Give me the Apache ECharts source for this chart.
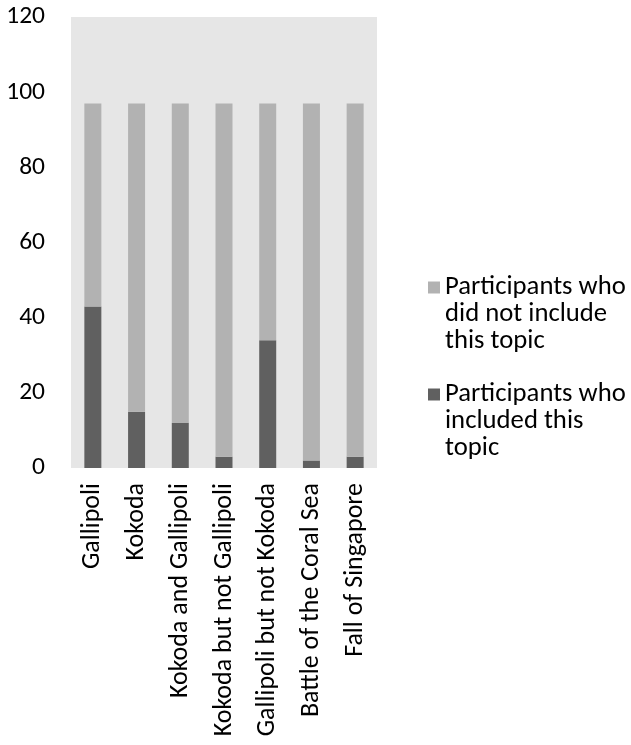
<!DOCTYPE html>
<html><head><meta charset="utf-8">
<script src="https://cdn.jsdelivr.net/npm/echarts@6/dist/echarts.min.js"></script>
<style>html,body{margin:0;padding:0;background:#fff}#c{width:631px;height:745px}</style>
</head><body><div id="c"></div>
<script>
const categories = ['Gallipoli','Kokoda','Kokoda and Gallipoli','Kokoda but not Gallipoli','Gallipoli but not Kokoda','Battle of the Coral Sea','Fall of Singapore'];
const included = [43,15,12,3,34,2,3];
const notIncluded = [54,82,85,94,63,95,94];
const yTicks = [0,20,40,60,80,100,120];
const seriesNames = ['Participants who did not include this topic','Participants who included this topic'];
const legendLines = {
  'Participants who did not include this topic': '\n\nParticipants who\ndid not include\nthis topic',
  'Participants who included this topic': '\n\nParticipants who\nincluded this\ntopic'
};
const FONT = 'Carlito, Lato, sans-serif';
const chart = echarts.init(document.getElementById('c'), null, {renderer:'canvas'});
function legendCfg(name, top){
  return {
    data:[name], left:428, top:top, orient:'vertical', padding:0,
    itemWidth:12, itemHeight:12, icon:'rect', selectedMode:false,
    formatter: n => legendLines[n],
    textStyle:{fontFamily:FONT, fontSize:26.7, color:'#000', lineHeight:27}
  };
}
chart.setOption({
  animation:false,
  grid:{left:71, right:254, top:17, bottom:277, show:true, backgroundColor:'#e6e6e6', borderWidth:0},
  legend:[legendCfg(seriesNames[0], 220), legendCfg(seriesNames[1], 327)],
  xAxis:{type:'category', data:categories,
    axisLine:{show:false}, axisTick:{show:false},
    axisLabel:{rotate:90, interval:0, margin:15, fontFamily:FONT, fontSize:26, color:'#000'}},
  yAxis:{type:'value', min:yTicks[0], max:yTicks[yTicks.length-1], interval:20,
    axisLine:{show:false}, axisTick:{show:false}, splitLine:{show:false},
    axisLabel:{margin:26, fontFamily:FONT, fontSize:25.5, color:'#000'}},
  series:[
    {name:seriesNames[1], type:'bar', stack:'t', data:included, barWidth:17, itemStyle:{color:'#606060'}},
    {name:seriesNames[0], type:'bar', stack:'t', data:notIncluded, barWidth:17, itemStyle:{color:'#b2b2b2'}}
  ]
});
</script></body></html>
